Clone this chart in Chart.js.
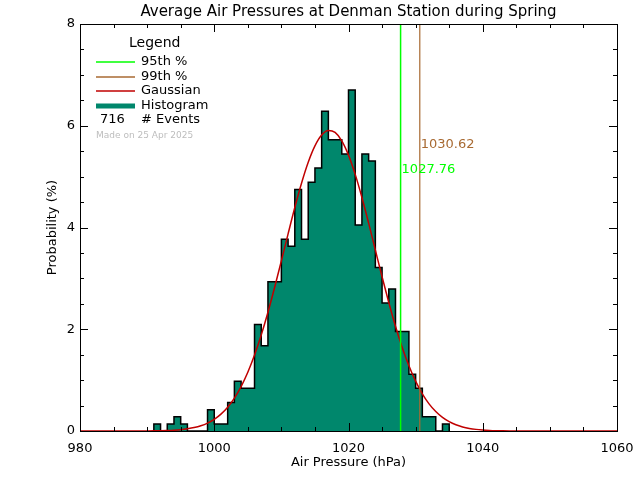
<!DOCTYPE html>
<html>
<head>
<meta charset="utf-8">
<script src="https://cdn.jsdelivr.net/npm/chart.js@4.4.1/dist/chart.umd.min.js"></script>
<style>
  html, body { margin: 0; padding: 0; background: #fff; }
</style>
</head>
<body>
<canvas id="myChart" width="640" height="480"></canvas>
<script>
// histogram: 1 hPa bins (left edge) and event counts
var binEdges = [991, 992, 993, 994, 995, 996, 997, 998, 999, 1000,
                1001, 1002, 1003, 1004, 1005, 1006, 1007, 1008, 1009, 1010,
                1011, 1012, 1013, 1014, 1015, 1016, 1017, 1018, 1019, 1020,
                1021, 1022, 1023, 1024, 1025, 1026, 1027, 1028, 1029, 1030,
                1031, 1032, 1033, 1034];
var binCounts = [1, 0, 1, 2, 1, 0, 0, 0, 3, 1,
                 1, 4, 7, 6, 6, 15, 12, 21, 21, 27,
                 26, 34, 27, 35, 37, 45, 41, 41, 39, 48,
                 29, 39, 38, 23, 18, 20, 14, 14, 8, 6,
                 2, 2, 0, 1];
var totalEvents = 716;

// gaussian curve, probability (%) read at 1 hPa steps
var gaussX = [980, 990, 991, 992, 993, 994, 995, 996, 997, 998, 999,
              1000, 1001, 1002, 1003, 1004, 1005, 1006, 1007, 1008, 1009,
              1010, 1011, 1012, 1013, 1014, 1015, 1016, 1017, 1018, 1019,
              1020, 1021, 1022, 1023, 1024, 1025, 1026, 1027, 1028, 1029,
              1030, 1031, 1032, 1033, 1034, 1035, 1036, 1037, 1038, 1039,
              1040, 1041, 1042, 1043, 1044, 1045, 1060];
var gaussY = [0, 0.002, 0.003, 0.006, 0.010, 0.016, 0.026, 0.043, 0.067, 0.103, 0.156,
              0.230, 0.332, 0.468, 0.647, 0.873, 1.154, 1.492, 1.887, 2.334, 2.826,
              3.346, 3.876, 4.393, 4.870, 5.282, 5.604, 5.817, 5.907, 5.869, 5.704,
              5.423, 5.044, 4.590, 4.086, 3.558, 3.031, 2.527, 2.060, 1.643, 1.283,
              0.979, 0.731, 0.534, 0.382, 0.267, 0.183, 0.122, 0.080, 0.051, 0.032,
              0.020, 0.012, 0.007, 0.004, 0.002, 0.001, 0];

var pct95 = 1027.76;
var pct99 = 1030.62;
var pct95LabelY = 5.13;
var pct99LabelY = 5.62;

var xTicks = [980, 1000, 1020, 1040, 1060];
var yTicks = [0, 2, 4, 6, 8];

var green = '#00ff00';
var brown = '#a86a32';
var red = '#c00000';
var teal = '#00876c';

Chart.defaults.font.family = 'DejaVu Sans';
Chart.defaults.color = '#000';

var histData = [{ x: binEdges[0], y: 0 }];
binEdges.forEach(function (e, i) {
    histData.push({ x: e, y: binCounts[i] * 100 / totalEvents });
});
histData.push({ x: binEdges[binEdges.length - 1] + 1, y: 0 });

var gaussData = gaussX.map(function (x, i) { return { x: x, y: gaussY[i] }; });

// frame, inward ticks, legend and percentile labels
var extras = {
    id: 'extras',
    afterDraw: function (chart) {
        var ctx = chart.ctx;
        var a = chart.chartArea;
        var xs = chart.scales.x, ys = chart.scales.y;
        ctx.save();
        ctx.strokeStyle = '#000';
        ctx.lineWidth = 1;
        ctx.beginPath();
        for (var v = 980; v <= 1060; v += 5) {
            var px = Math.round(xs.getPixelForValue(v)) + 0.5;
            var len = (v % 20 === 0) ? 8 : 4;
            ctx.moveTo(px, a.bottom); ctx.lineTo(px, a.bottom - len);
            ctx.moveTo(px, a.top); ctx.lineTo(px, a.top + len);
        }
        for (var w = 0; w <= 8; w += 0.5) {
            var py = Math.round(ys.getPixelForValue(w)) + 0.5;
            var ln = (w % 2 === 0) ? 8 : 4;
            ctx.moveTo(a.left, py); ctx.lineTo(a.left + ln, py);
            ctx.moveTo(a.right, py); ctx.lineTo(a.right - ln, py);
        }
        ctx.stroke();
        ctx.strokeRect(Math.round(a.left) + 0.5, Math.round(a.top) + 0.5,
                       Math.round(a.right - a.left), Math.round(a.bottom - a.top));

        // percentile values
        ctx.font = '13px DejaVu Sans';
        ctx.textBaseline = 'middle';
        ctx.textAlign = 'left';
        ctx.fillStyle = brown;
        ctx.fillText(pct99.toFixed(2), xs.getPixelForValue(pct99) + 1, ys.getPixelForValue(pct99LabelY));
        ctx.fillStyle = green;
        ctx.fillText(pct95.toFixed(2), xs.getPixelForValue(pct95) + 1, ys.getPixelForValue(pct95LabelY));

        // legend
        ctx.fillStyle = '#000';
        ctx.font = '14px DejaVu Sans';
        ctx.fillText('Legend', 129, 43);
        var items = [['95th %', green, 1.5, 62], ['99th %', brown, 1.5, 77],
                     ['Gaussian', red, 1.5, 91], ['Histogram', teal, 5, 106]];
        ctx.font = '13px DejaVu Sans';
        items.forEach(function (it) {
            ctx.strokeStyle = it[1];
            ctx.lineWidth = it[2];
            ctx.beginPath();
            ctx.moveTo(96, it[3]); ctx.lineTo(135, it[3]);
            ctx.stroke();
            ctx.fillStyle = '#000';
            ctx.fillText(it[0], 141, it[3]);
        });
        ctx.fillText(String(totalEvents), 100, 120);
        ctx.fillText('# Events', 141, 120);
        ctx.fillStyle = '#bdbdbd';
        ctx.font = '9px DejaVu Sans';
        ctx.fillText('Made on 25 Apr 2025', 96, 136);
        ctx.restore();
    }
};

new Chart('myChart', {
    type: 'line',
    data: {
        datasets: [{
            data: gaussData,
            borderColor: red,
            borderWidth: 1.5,
            pointRadius: 0,
            tension: 0.4,
            cubicInterpolationMode: 'monotone',
            fill: false,
            order: 1
        }, {
            data: [{ x: pct95, y: 0 }, { x: pct95, y: 8 }],
            borderColor: green,
            borderWidth: 1.5,
            pointRadius: 0,
            fill: false,
            order: 0
        }, {
            data: [{ x: pct99, y: 0 }, { x: pct99, y: 8 }],
            borderColor: brown,
            borderWidth: 1.2,
            pointRadius: 0,
            fill: false,
            order: 0
        }, {
            data: histData,
            stepped: 'before',
            borderColor: '#000',
            borderWidth: 1.5,
            backgroundColor: teal,
            pointRadius: 0,
            fill: 'origin',
            order: 2
        }]
    },
    options: {
        responsive: false,
        animation: false,
        layout: { padding: { left: 0, right: 23, top: 0, bottom: 0 } },
        plugins: {
            legend: { display: false },
            tooltip: { enabled: false },
            title: {
                display: true,
                fullSize: false,
                text: 'Average Air Pressures at Denman Station during Spring',
                font: { size: 15, weight: 'normal' },
                color: '#000',
                padding: { top: 3, bottom: 3 }
            }
        },
        scales: {
            x: {
                type: 'linear',
                min: 980,
                max: 1060,
                afterBuildTicks: function (s) { s.ticks = xTicks.map(function (v) { return { value: v }; }); },
                afterFit: function (s) { s.height = 49; s.paddingRight = 0; s.paddingLeft = 0; },
                grid: { display: false, drawTicks: false },
                border: { display: false },
                ticks: {
                    padding: 10, font: { size: 13 }, maxRotation: 0, autoSkip: false,
                    callback: function (v) { return String(v); }
                },
                title: { display: true, text: 'Air Pressure (hPa)', font: { size: 13 }, padding: { top: 0, bottom: 10 } }
            },
            y: {
                min: 0,
                max: 8,
                afterBuildTicks: function (s) { s.ticks = yTicks.map(function (v) { return { value: v }; }); },
                afterFit: function (s) { s.width = 80; s.paddingTop = 0; s.paddingBottom = 0; },
                grid: { display: false, drawTicks: false },
                border: { display: false },
                ticks: { padding: 5, font: { size: 13 }, callback: function (v) { return String(v); } },
                title: { display: true, text: 'Probability (%)', font: { size: 13 }, padding: { top: 45, bottom: 0 } }
            }
        }
    },
    plugins: [extras]
});
</script>
</body>
</html>
